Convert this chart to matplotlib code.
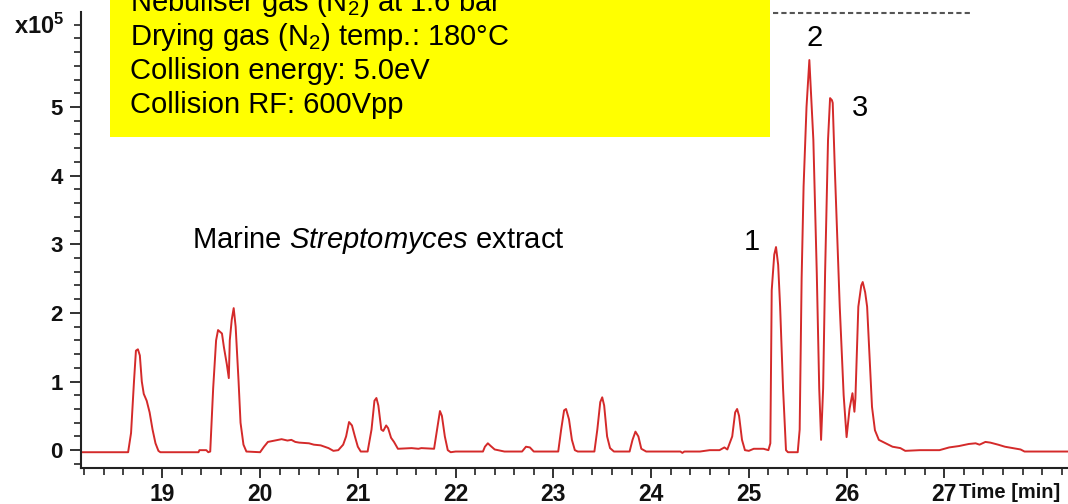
import matplotlib
matplotlib.use("Agg")
import matplotlib.pyplot as plt
from matplotlib import font_manager
from matplotlib.ticker import MultipleLocator, FixedLocator
from matplotlib.patches import Rectangle
from matplotlib.lines import Line2D

# ---------------- data ----------------
time_min = [18.17, 18.65, 18.68, 18.71, 18.73, 18.75, 18.77, 18.79, 18.81, 18.84,
            18.87, 18.90, 18.93, 18.96, 18.98, 19.37, 19.38, 19.45, 19.47, 19.49,
            19.52, 19.55, 19.57, 19.61, 19.63, 19.66, 19.68, 19.69, 19.71, 19.73,
            19.75, 19.78, 19.80, 19.83, 19.86, 20.00, 20.04, 20.08, 20.15, 20.22,
            20.28, 20.32, 20.36, 20.40, 20.50, 20.55, 20.62, 20.70, 20.75, 20.80,
            20.85, 20.88, 20.91, 20.94, 20.97, 21.00, 21.03, 21.10, 21.14, 21.17,
            21.19, 21.21, 21.24, 21.26, 21.29, 21.31, 21.34, 21.37, 21.41, 21.55,
            21.62, 21.65, 21.78, 21.81, 21.84, 21.86, 21.89, 21.92, 21.95, 22.00,
            22.28, 22.30, 22.33, 22.36, 22.40, 22.50, 22.68, 22.72, 22.76, 22.80,
            23.05, 23.08, 23.11, 23.13, 23.16, 23.19, 23.22, 23.25, 23.42, 23.45,
            23.48, 23.50, 23.52, 23.55, 23.58, 23.62, 23.78, 23.81, 23.84, 23.87,
            23.90, 23.95, 24.30, 24.32, 24.34, 24.50, 24.60, 24.70, 24.75, 24.78,
            24.83, 24.86, 24.88, 24.90, 24.93, 24.96, 25.00, 25.05, 25.15, 25.20,
            25.22, 25.234, 25.26, 25.278, 25.30, 25.32, 25.35, 25.38, 25.40, 25.50,
            25.52, 25.54, 25.56, 25.59, 25.619, 25.64, 25.66, 25.695, 25.72, 25.739,
            25.76, 25.78, 25.81, 25.831, 25.85, 25.858, 25.88, 25.93, 25.97, 26.00,
            26.03, 26.06, 26.08, 26.09, 26.12, 26.15, 26.165, 26.19, 26.21, 26.26,
            26.29, 26.33, 26.40, 26.47, 26.55, 26.60, 26.75, 26.95, 27.05, 27.15,
            27.25, 27.32, 27.36, 27.42, 27.47, 27.55, 27.62, 27.70, 27.78, 27.82,
            28.27]
intensity_e5 = [-0.03, -0.03, 0.25, 1.00, 1.45, 1.47, 1.38, 1.00, 0.82, 0.72,
                0.55, 0.30, 0.10, -0.01, -0.03, -0.03, 0.00, 0.00, -0.03, -0.02,
                0.90, 1.60, 1.75, 1.70, 1.50, 1.25, 1.05, 1.60, 1.90, 2.07,
                1.80, 1.00, 0.40, 0.08, -0.02, -0.03, 0.05, 0.12, 0.14, 0.16,
                0.14, 0.15, 0.12, 0.11, 0.10, 0.08, 0.07, 0.03, -0.01, 0.00,
                0.08, 0.20, 0.41, 0.36, 0.20, 0.05, -0.02, -0.02, 0.30, 0.72,
                0.76, 0.65, 0.30, 0.28, 0.36, 0.32, 0.18, 0.12, 0.02, 0.03,
                0.02, 0.03, 0.02, 0.30, 0.57, 0.50, 0.20, 0.00, -0.03, -0.02,
                -0.02, 0.05, 0.10, 0.06, 0.01, -0.02, -0.02, 0.05, 0.04, -0.02,
                -0.02, 0.30, 0.58, 0.60, 0.45, 0.15, 0.00, -0.02, -0.02, 0.30,
                0.70, 0.77, 0.65, 0.20, 0.03, -0.02, -0.02, 0.15, 0.27, 0.20,
                0.02, -0.02, -0.02, -0.04, -0.02, -0.02, 0.00, 0.00, 0.04, 0.01,
                0.20, 0.55, 0.60, 0.50, 0.15, 0.00, -0.01, 0.02, 0.02, 0.00,
                0.10, 2.33, 2.85, 2.96, 2.70, 2.09, 0.90, 0.00, -0.03, -0.03,
                0.30, 2.50, 3.84, 5.00, 5.685, 5.10, 4.52, 2.58, 0.90, 0.15,
                0.90, 2.58, 4.52, 5.13, 5.10, 5.06, 4.08, 2.09, 0.80, 0.19,
                0.60, 0.83, 0.56, 0.75, 2.09, 2.40, 2.45, 2.30, 2.09, 0.63,
                0.29, 0.15, 0.10, 0.05, 0.03, -0.01, 0.00, 0.00, 0.04, 0.06,
                0.09, 0.10, 0.08, 0.12, 0.11, 0.08, 0.05, 0.03, 0.01, -0.02,
                -0.02]

x_major_ticks = [19, 20, 21, 22, 23, 24, 25, 26, 27]
x_tick_labels = ["19", "20", "21", "22", "23", "24", "25", "26", "27"]
y_major_ticks = [0, 1, 2, 3, 4, 5]
y_tick_labels = ["0", "1", "2", "3", "4", "5"]

peak_labels = ["1", "2", "3"]
conditions = ["Nebuliser gas (N$_2$) at 1.6 bar",
              "Drying gas (N$_2$) temp.: 180\u00b0C",
              "Collision energy: 5.0eV",
              "Collision RF: 600Vpp"]

# ---------------- fonts ----------------
names = {f.name for f in font_manager.fontManager.ttflist}
base = "Liberation Sans" if "Liberation Sans" in names else "DejaVu Sans"

plt.rcParams["font.family"] = [base, "DejaVu Sans"]
plt.rcParams["mathtext.fontset"] = "custom"
plt.rcParams["mathtext.rm"] = base
plt.rcParams["mathtext.it"] = base + ":italic"
plt.rcParams["mathtext.bf"] = base + ":bold"

W, H = 1068, 504
fig = plt.figure(figsize=(W / 100, H / 100), dpi=100)

def fx(px):
    return px / W

def fy(py):
    return 1 - py / H

ax = fig.add_axes([fx(81), fy(468), fx(1068) - fx(81), fy(12) - fy(468)])

red = "#D42A2A"
ax.plot(time_min, intensity_e5, color=red, lw=1.4, solid_joinstyle="round")

ax.set_xlim(18.168, 28.265)
ax.set_ylim(-0.26, 6.385)

for s in ["top", "right"]:
    ax.spines[s].set_visible(False)
for s in ["left", "bottom"]:
    ax.spines[s].set_linewidth(1.5)
    ax.spines[s].set_color("#222222")

ax.xaxis.set_major_locator(FixedLocator(x_major_ticks))
ax.set_xticklabels(x_tick_labels)
ax.xaxis.set_minor_locator(MultipleLocator(0.2))
ax.yaxis.set_major_locator(FixedLocator(y_major_ticks))
ax.set_yticklabels(y_tick_labels)
ax.yaxis.set_minor_locator(MultipleLocator(0.2))

ax.tick_params(axis="x", which="major", length=7.5, width=1.3, color="#222222", pad=3)
ax.tick_params(axis="x", which="minor", length=5, width=1.2, color="#222222")
ax.tick_params(axis="y", which="major", length=8, width=1.3, color="#222222", pad=5)
ax.tick_params(axis="y", which="minor", length=5, width=1.2, color="#222222")

for lab in ax.get_xticklabels():
    lab.set_fontweight("bold")
    lab.set_fontsize(16.5)
    lab.set_color("#111111")
for lab in ax.get_yticklabels():
    lab.set_fontweight("bold")
    lab.set_fontsize(16)
    lab.set_color("#111111")

# axis unit texts
fig.text(fx(959), fy(492), "Time [min]", fontweight="bold",
         fontsize=14.5, ha="left", va="center", color="#111111")
fig.text(fx(64), fy(34), r"x10$^\mathbf{5}$", fontweight="bold", fontsize=17,
         ha="right", va="baseline", color="#111111")

# peak labels
fig.text(fx(752), fy(242), peak_labels[0], fontsize=21, ha="center", va="center")
fig.text(fx(815), fy(38), peak_labels[1], fontsize=21, ha="center", va="center")
fig.text(fx(860), fy(108), peak_labels[2], fontsize=21, ha="center", va="center")

# sample text
fig.text(fx(192), fy(248), r"Marine $\mathit{Streptomyces}$ extract",
         fontsize=21, ha="left", va="baseline")

# yellow condition box
fig.patches.append(Rectangle((fx(110), fy(137)), fx(770) - fx(110), fy(0) - fy(137),
                             transform=fig.transFigure, facecolor="#FFFF00",
                             edgecolor="none", zorder=5))
for i, line in enumerate(conditions):
    fig.text(fx(130), fy(11 + 34 * i), line, fontsize=21, ha="left",
             va="baseline", zorder=6)

# dashed remnant at top right
fig.lines.append(Line2D([fx(773), fx(972)], [fy(13), fy(13)], transform=fig.transFigure,
                        color="#555555", lw=1.5, linestyle=(0, (2.5, 1.5))))

fig.savefig("out.png", dpi=100)
